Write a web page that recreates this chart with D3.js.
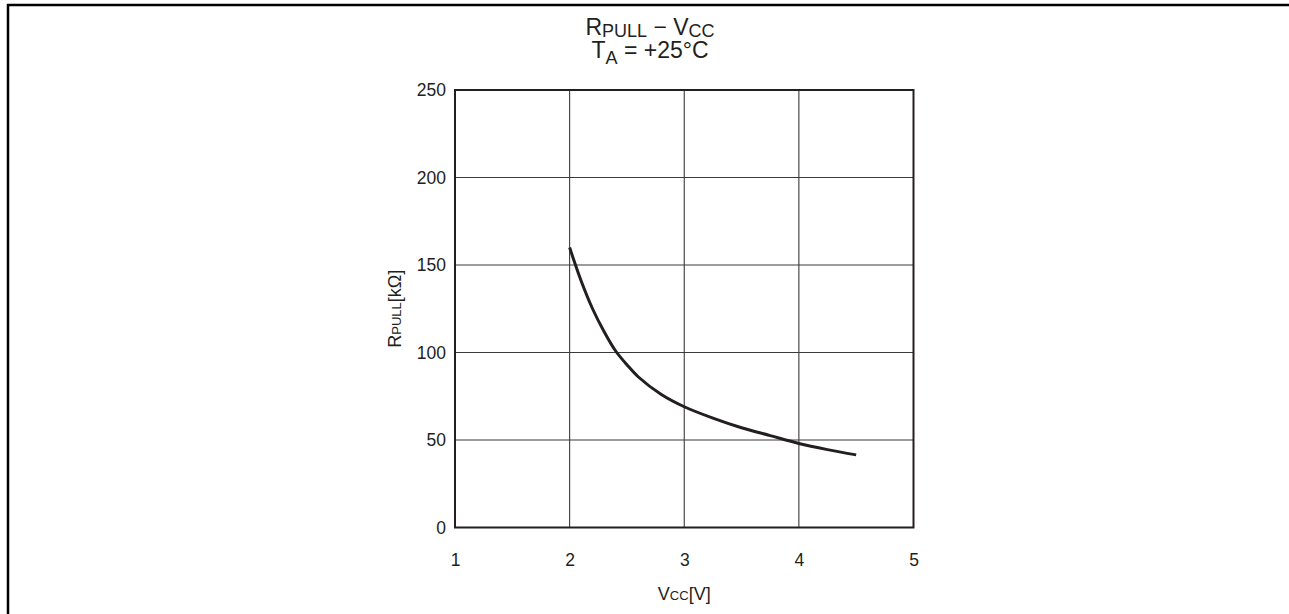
<!DOCTYPE html>
<html>
<head>
<meta charset="utf-8">
<script src="https://cdn.jsdelivr.net/npm/d3@7"></script>
<style>
  body { margin: 0; background: #fff; }
  text { font-family: "Liberation Sans", Arial, sans-serif; fill: #231f20; }
</style>
</head>
<body>
<div id="chart"></div>
<script>
// values
const vcc = [2.0, 2.1, 2.2, 2.3, 2.4, 2.5, 2.6, 2.8, 3.0, 3.25, 3.5, 3.75, 4.0, 4.25, 4.5];
const rpull = [160, 141, 125, 112, 101, 93, 86, 76, 69, 62.5, 57, 52.5, 48, 44.5, 41.5];
const xTicks = [1, 2, 3, 4, 5];
const yTicks = [0, 50, 100, 150, 200, 250];

// set the dimensions and margins of the graph
var margin = {top: 90, right: 375.5, bottom: 86.5, left: 455},
    width = 1289 - margin.left - margin.right,
    height = 614 - margin.top - margin.bottom;

const svg = d3.select('#chart')
    .append("svg")
    .attr("width", 1289)
    .attr("height", 614);

// outer page frame (top + left edge)
svg.append("path")
    .attr("d", "M8,614 L8,5 L1289,5")
    .attr("fill", "none")
    .attr("stroke", "#000")
    .attr("stroke-width", 2.5);

const g = svg.append("g")
    .attr("transform", `translate(${margin.left}, ${margin.top})`);

var x = d3.scaleLinear().domain([1, 5]).range([0, width]);
var y = d3.scaleLinear().domain([0, 250]).range([height, 0]);

// grid
g.append("g").selectAll("line")
  .data(xTicks.slice(1, -1))
  .join("line")
    .attr("x1", d => x(d)).attr("x2", d => x(d))
    .attr("y1", 0).attr("y2", height)
    .attr("stroke", "#3a3a3a").attr("stroke-width", 1.1);

g.append("g").selectAll("line")
  .data(yTicks.slice(1, -1))
  .join("line")
    .attr("x1", 0).attr("x2", width)
    .attr("y1", d => y(d)).attr("y2", d => y(d))
    .attr("stroke", "#3a3a3a").attr("stroke-width", 1.1);

// axes (labels only)
const xAxis = g.append("g")
    .attr("transform", `translate(0, ${height})`)
    .call(d3.axisBottom(x).tickValues(xTicks).tickSize(0).tickPadding(26).tickFormat(d3.format("d")));
const yAxis = g.append("g")
    .call(d3.axisLeft(y).tickValues(yTicks).tickSize(0).tickPadding(9).tickFormat(d3.format("d")));
[xAxis, yAxis].forEach(a => {
  a.select(".domain").remove();
  a.selectAll("text").style("font-size", "17.5px").style("font-family", "'Liberation Sans', Arial, sans-serif").attr("fill", "#231f20");
});

// plot frame
g.append("rect")
    .attr("width", width).attr("height", height)
    .attr("fill", "none")
    .attr("stroke", "#231f20")
    .attr("stroke-width", 2);

// curve
const line = d3.line()
    .x((d, i) => x(vcc[i]))
    .y(d => y(d))
    .curve(d3.curveCatmullRom.alpha(0.5));

g.append("path")
    .datum(rpull)
    .attr("d", line)
    .attr("fill", "none")
    .attr("stroke", "#231f20")
    .attr("stroke-width", 3);

// title
const t1 = svg.append("text").attr("x", 650).attr("y", 34.5).attr("text-anchor", "middle").style("font-size", "23px");
t1.append("tspan").text("R");
t1.append("tspan").attr("dy", 2).style("font-size", "18px").text("PULL");
t1.append("tspan").attr("dy", -2).text(" \u2212 V");
t1.append("tspan").attr("dy", 2).style("font-size", "18px").text("CC");

const t2 = svg.append("text").attr("x", 650).attr("y", 58).attr("text-anchor", "middle").style("font-size", "23px");
t2.append("tspan").text("T");
t2.append("tspan").attr("dy", 6).style("font-size", "18px").text("A");
t2.append("tspan").attr("dy", -6).text(" = +25\u00b0C");

// axis titles
const xl = svg.append("text")
    .attr("x", margin.left + width / 2).attr("y", 600)
    .attr("text-anchor", "middle").style("font-size", "18px");
xl.append("tspan").text("V");
xl.append("tspan").style("font-size", "13px").text("CC");
xl.append("tspan").text("[V]");

const yl = svg.append("text")
    .attr("transform", `translate(401, ${margin.top + height / 2}) rotate(-90)`)
    .attr("text-anchor", "middle").style("font-size", "18px");
yl.append("tspan").text("R");
yl.append("tspan").style("font-size", "13px").text("PULL");
yl.append("tspan").text("[k\u03a9]");
</script>
</body>
</html>
